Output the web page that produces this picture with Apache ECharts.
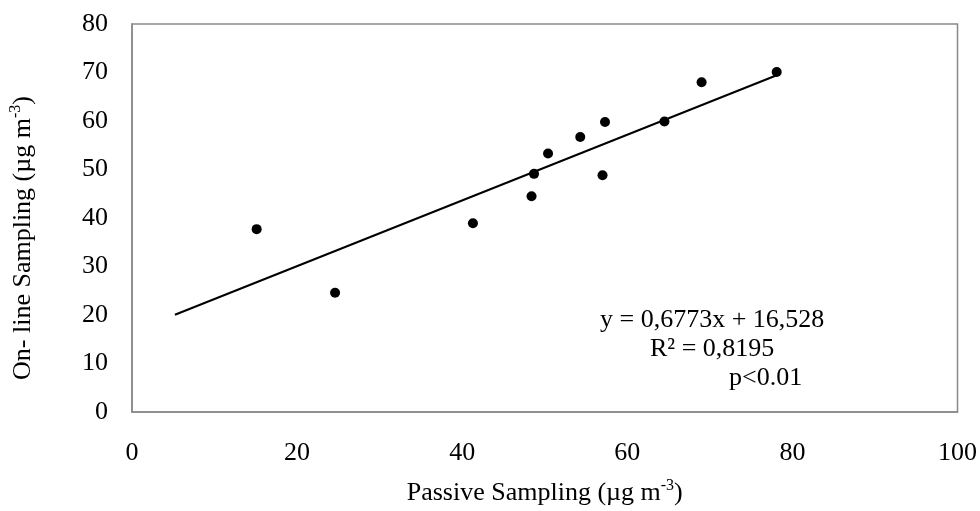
<!DOCTYPE html>
<html>
<head>
<meta charset="utf-8">
<script src="https://cdn.jsdelivr.net/npm/echarts@6/dist/echarts.min.js"></script>
<style>
  html, body { margin: 0; padding: 0; background: #fff; }
  #chartContainer { width: 980px; height: 511px; }
</style>
</head>
<body>
<div id="chartContainer"></div>
<script>
// passive vs on-line sampling (µg m-3)
const passive = [15.1, 24.6, 41.3, 48.4, 48.7, 50.4, 54.3, 57.0, 57.3, 64.5, 69.0, 78.1];
const online = [37.7, 24.6, 38.9, 44.5, 49.1, 53.3, 56.7, 48.8, 59.8, 59.9, 68.0, 70.1];
const xTicks = [0, 20, 40, 60, 80, 100];
const yTicks = [0, 10, 20, 30, 40, 50, 60, 70, 80];
const slope = 0.6773;
const intercept = 16.528;
const trendRange = [5.2, 78.1];
const eqLines = ['y = 0,6773x + 16,528', 'R² = 0,8195', 'p<0.01'];

const FONT = '"Liberation Serif", "Times New Roman", serif';
const AXIS_COLOR = '#898989';

let chart = null;

document.addEventListener('DOMContentLoaded', function() {
    chart = echarts.init(document.getElementById('chartContainer'));
    updateChart();
});

function nameRich() {
    return {
        a: { fontSize: 26, fontFamily: FONT, color: '#000', lineHeight: 28, verticalAlign: 'bottom' },
        s: { fontSize: 16, fontFamily: FONT, color: '#000', lineHeight: 28, verticalAlign: 'top' }
    };
}

function updateChart() {
    const points = passive.map((x, i) => [x, online[i]]);
    const trend = trendRange.map(x => [x, slope * x + intercept]);

    const option = {
        backgroundColor: '#fff',
        animation: false,
        textStyle: { fontFamily: FONT },
        grid: { left: 130, right: 22, top: 24, bottom: 94, show: true, borderColor: AXIS_COLOR, borderWidth: 1.5 },
        xAxis: {
            type: 'value',
            min: xTicks[0], max: xTicks[xTicks.length - 1], interval: 20,
            axisLine: { show: true, lineStyle: { color: AXIS_COLOR, width: 1.5 } },
            axisTick: { show: false },
            splitLine: { show: false },
            axisLabel: { color: '#000', fontSize: 26, fontFamily: FONT, margin: 28 },
            name: '{a|Passive Sampling (µg m}{s|-3}{a|)}',
            nameLocation: 'middle',
            nameGap: 66,
            nameTextStyle: { rich: nameRich() }
        },
        yAxis: {
            type: 'value',
            min: yTicks[0], max: yTicks[yTicks.length - 1], interval: 10,
            axisLine: { show: true, lineStyle: { color: AXIS_COLOR, width: 1.5 } },
            axisTick: { show: false },
            splitLine: { show: false },
            axisLabel: { color: '#000', fontSize: 26, fontFamily: FONT, margin: 24 },
            name: '{a|On- line Sampling (µg m}{s|-3}{a|)}',
            nameLocation: 'middle',
            nameRotate: 90,
            nameGap: 96,
            nameTextStyle: { rich: nameRich(), padding: [0, 40, 0, 0] }
        },
        series: [
            {
                type: 'line',
                data: trend,
                symbol: 'none',
                lineStyle: { color: '#000', width: 2 },
                z: 2
            },
            {
                type: 'scatter',
                data: points,
                symbol: 'circle',
                symbolSize: 10,
                itemStyle: { color: '#000', opacity: 1 },
                z: 3
            }
        ],
        graphic: [
            { type: 'text', left: 600, top: 307, style: { text: eqLines[0], font: '26px ' + FONT, fill: '#000' } },
            { type: 'text', left: 650, top: 336, style: { text: eqLines[1], font: '26px ' + FONT, fill: '#000' } },
            { type: 'text', left: 729, top: 365, style: { text: eqLines[2], font: '26px ' + FONT, fill: '#000' } }
        ]
    };

    chart.setOption(option, true);
}
</script>
</body>
</html>
